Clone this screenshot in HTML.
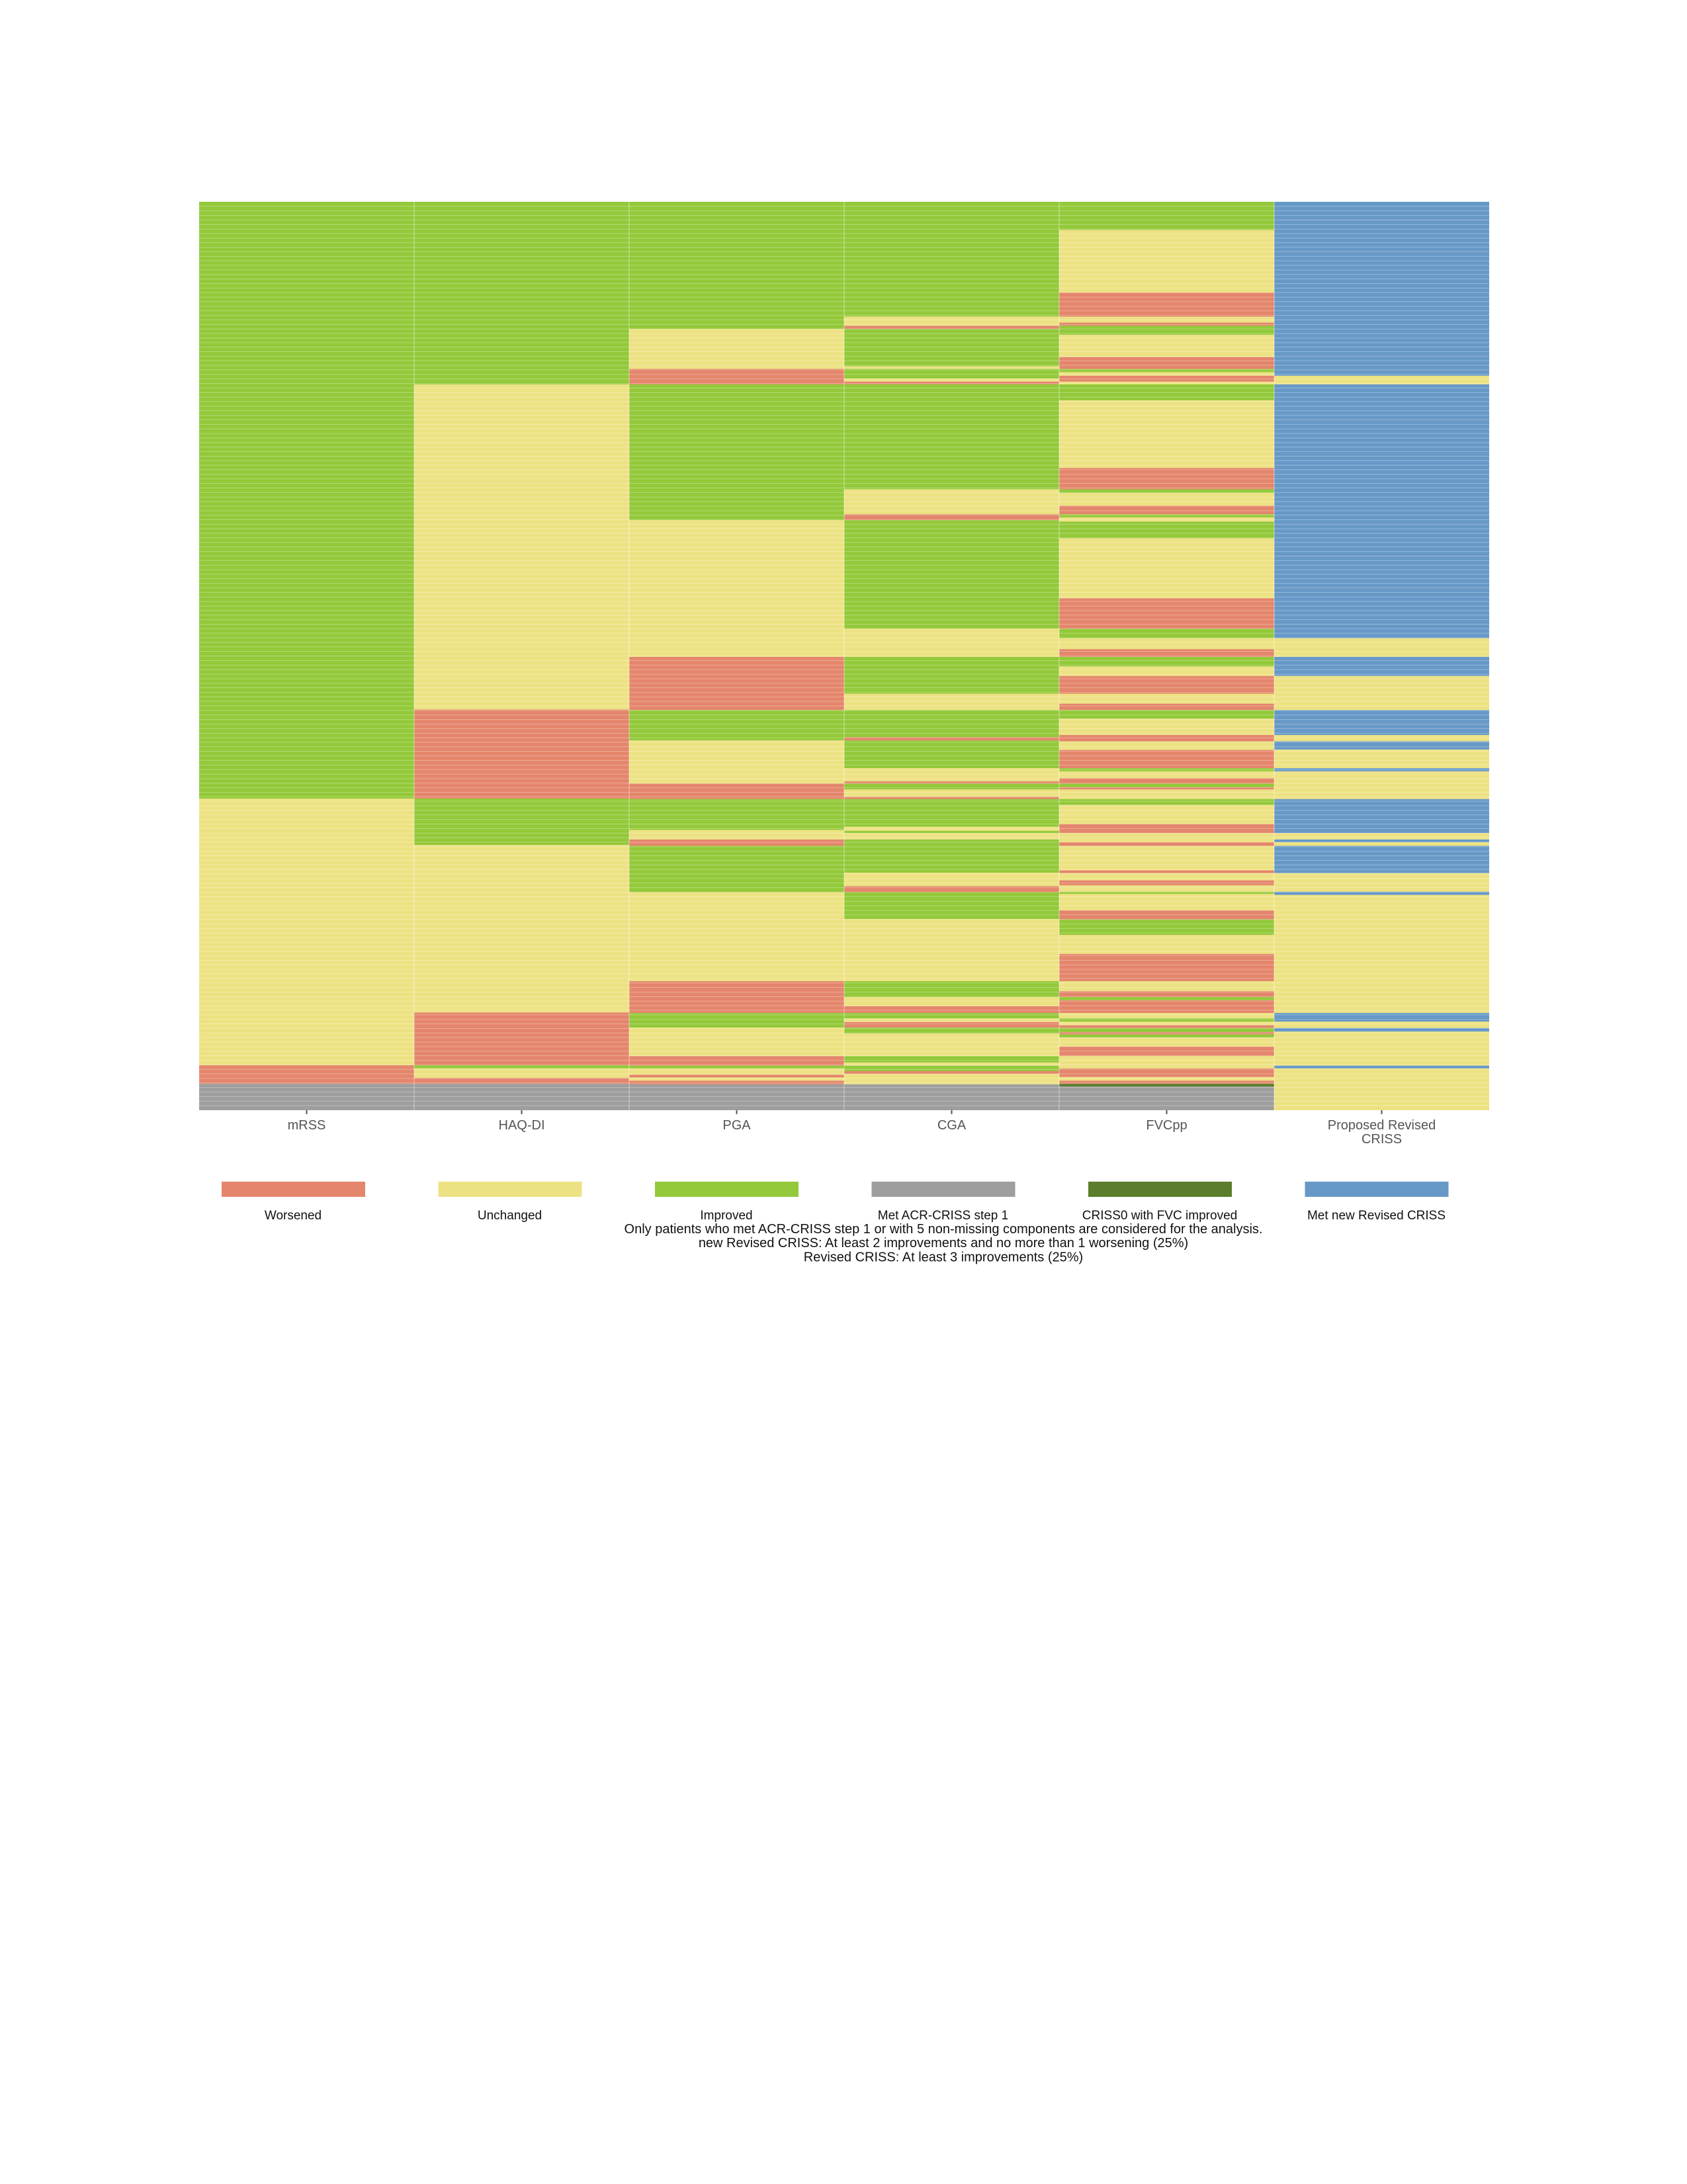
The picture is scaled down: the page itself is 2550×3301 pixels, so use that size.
<!DOCTYPE html>
<html><head><meta charset="utf-8">
<style>
html,body{margin:0;padding:0;background:#fff;}
body{width:2550px;height:3301px;position:relative;overflow:hidden;font-family:"Liberation Sans",sans-serif;}
svg{position:absolute;left:0;top:0;}
</style></head>
<body>
<svg id="chart" width="2550" height="3301"></svg>
<script>
const columns = ["mRSS","HAQ-DI","PGA","CGA","FVCpp","Proposed Revised|CRISS"];
const totalRows = 200;
// each series: run of [category, endRow]
const mrssRuns = [["I",131.4],["U",190.1],["W",194.2],["G",200]];
const haqRuns = [["I",40.2],["U",111.8],["W",131.4],["I",141.6],["U",178.5],["W",190.1],["I",190.8],["U",192.9],["W",194.2],["G",200]];
const pgaRuns = [["I",28.0],["U",36.8],["W",40.2],["I",70.1],["U",100.2],["W",111.9],["I",118.6],["U",128.1],["W",131.5],["I",138.3],["U",140.4],["W",141.8],["I",152.0],["U",171.6],["W",178.6],["I",181.8],["U",188.1],["W",190.2],["I",190.8],["U",192.2],["W",192.8],["U",193.5],["W",194.3],["G",200]];
const cgaRuns = [["I",25.3],["U",27.3],["W",28.0],["I",36.2],["U",36.8],["I",38.9],["U",39.6],["W",40.2],["I",63.3],["U",68.8],["W",70.1],["I",94.0],["U",100.2],["I",108.3],["U",111.9],["I",117.9],["W",118.6],["I",124.7],["U",127.6],["W",128.1],["I",129.4],["U",131.0],["W",131.5],["I",137.6],["U",138.5],["I",139.0],["U",140.4],["I",147.7],["U",150.7],["W",152.0],["I",157.9],["U",171.6],["I",175.1],["U",177.1],["W",178.6],["I",179.8],["U",180.6],["W",181.8],["I",183.1],["U",188.1],["I",189.5],["U",190.2],["I",191.4],["W",192.0],["U",194.3],["G",200]];
const fvcRuns = [["I",6.2],["U",20.0],["W",25.3],["U",26.6],["W",27.3],["I",29.3],["U",34.2],["W",36.8],["I",37.5],["U",38.3],["W",39.6],["U",40.2],["I",43.7],["U",58.6],["W",63.3],["I",64.1],["U",66.9],["W",68.8],["I",69.5],["U",70.4],["I",74.1],["U",87.3],["W",94.0],["I",96.1],["U",98.5],["W",100.2],["I",102.3],["U",104.4],["W",108.3],["U",110.5],["W",111.9],["I",113.8],["U",117.4],["W",118.8],["U",120.7],["W",124.7],["I",125.4],["U",126.9],["W",128.1],["I",128.9],["W",129.4],["U",131.5],["I",132.8],["U",137.0],["W",139.0],["U",141.0],["W",141.8],["U",147.2],["W",147.8],["U",149.4],["W",150.5],["U",151.9],["I",152.4],["U",156.0],["W",158.0],["I",161.4],["U",165.6],["W",171.6],["U",173.8],["W",175.1],["I",175.8],["W",178.6],["U",179.8],["I",180.5],["U",181.3],["W",181.9],["I",182.8],["W",183.3],["I",184.0],["U",186.0],["W",188.1],["U",190.8],["W",192.7],["U",193.5],["W",194.2],["D",194.8],["G",200]];
const revRuns = [["B",38.3],["U",40.2],["B",96.1],["U",100.2],["B",104.4],["U",111.9],["B",117.4],["U",118.8],["B",120.6],["U",124.7],["B",125.4],["U",131.5],["B",139.0],["U",140.4],["B",141.0],["U",141.8],["B",147.8],["U",151.9],["B",152.6],["U",178.6],["B",180.5],["U",181.9],["B",182.7],["U",190.2],["B",190.8],["U",200]];
const legendKeys = ["W","U","I","G","D","B"];
const legendLabels = ["Worsened","Unchanged","Improved","Met ACR-CRISS step 1","CRISS0 with FVC improved","Met new Revised CRISS"];
const notes = ["Only patients who met ACR-CRISS step 1 or with 5 non-missing components are considered for the analysis.","new Revised CRISS: At least 2 improvements and no more than 1 worsening (25%)","Revised CRISS: At least 3 improvements (25%)"];

const colors = {W:"#E4866C",U:"#EDE283",I:"#93C93A",G:"#9E9E9E",D:"#5B7D2C",B:"#6799C7"};
const allRuns = [mrssRuns,haqRuns,pgaRuns,cgaRuns,fvcRuns,revRuns];
const X0=301, X1=2251, Y0=305, Y1=1678;
const colW=(X1-X0)/columns.length;
const xPos = i => X0 + i*colW;
const yPos = r => Y0 + (r/totalRows)*(Y1-Y0);
const NS="http://www.w3.org/2000/svg";
const svg=document.getElementById('chart');
function mk(tag,attrs){const e=document.createElementNS(NS,tag);for(const k in attrs)e.setAttribute(k,attrs[k]);return e;}

allRuns.forEach((runs,ci)=>{
  let start=0;
  runs.forEach(([cat,end])=>{
    const r=mk('rect',{x:xPos(ci),y:yPos(start),width:colW,height:yPos(end)-yPos(start),fill:colors[cat]});
    
    
    svg.appendChild(r);
    start=end;
  });
});
// row separators
const grid=mk('g',{stroke:'#fff','stroke-opacity':'0.3','stroke-width':'1'});


for(let r=1;r<totalRows;r++){grid.appendChild(mk('line',{x1:X0,x2:X1,y1:yPos(r),y2:yPos(r)}));}
for(let c=1;c<columns.length;c++){grid.appendChild(mk('line',{x1:xPos(c),x2:xPos(c),y1:Y0,y2:Y1,'stroke-opacity':'0.5'}));}
svg.appendChild(grid);
// x labels
columns.forEach((c,i)=>{
  const cx=xPos(i)+colW/2;
  const t=mk('line',{x1:cx,x2:cx,y1:Y1,y2:Y1+6,stroke:'#555','stroke-width':2});
  
  
  svg.appendChild(t);
  c.split('|').forEach((line,k)=>{
    const tx=mk('text',{x:cx,y:Y1+29+k*21,'text-anchor':'middle','font-size':'20',fill:'#555','font-family':'Liberation Sans, sans-serif'});
    tx.textContent=line;
    
    
    svg.appendChild(tx);
  });
});
// legend
legendKeys.forEach((k,i)=>{
  const lx=335+i*327.5;
  const r=mk('rect',{x:lx,y:1786,width:217,height:23,fill:colors[k]});
  
  
  svg.appendChild(r);
  const t=mk('text',{x:lx+108,y:1843,'text-anchor':'middle','font-size':'19',fill:'#111','font-family':'Liberation Sans, sans-serif'});
  t.textContent=legendLabels[i];
  
  
  svg.appendChild(t);
});
notes.forEach((n,i)=>{
  const t=mk('text',{x:1426,y:1864+i*21.2,'text-anchor':'middle','font-size':'20',fill:'#111','font-family':'Liberation Sans, sans-serif'});
  t.textContent=n;
  
  
  svg.appendChild(t);
});
</script>
</body></html>
